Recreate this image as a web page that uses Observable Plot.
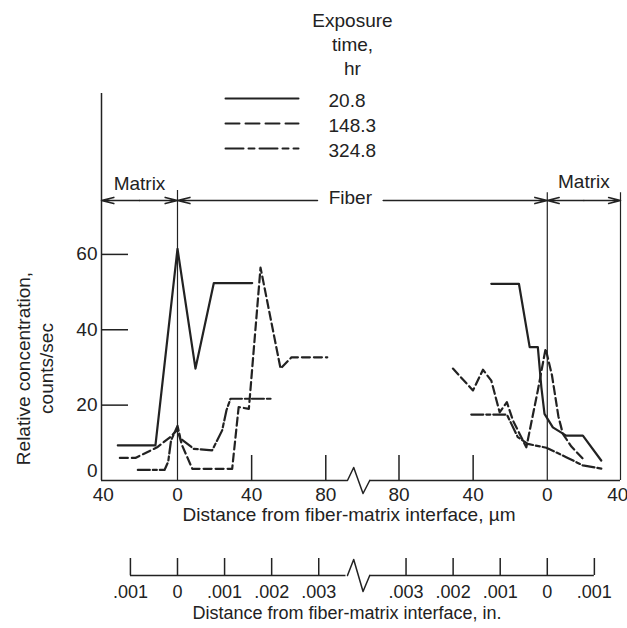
<!DOCTYPE html>
<html><head><meta charset="utf-8">
<script src="https://cdn.jsdelivr.net/npm/d3@7"></script>
<script src="https://cdn.jsdelivr.net/npm/@observablehq/plot@0.6"></script>
<style>
html,body{margin:0;padding:0;background:#fff;}
#wrap{position:relative;width:627px;height:628px;overflow:hidden;background:#fff;}
#wrap svg{position:absolute;left:0;top:0;}
</style></head><body><div id="wrap"></div>
<script>
// ---------- data ----------
const series = ["20.8", "148.3", "324.8"];           // exposure time, hr
// left interface: distance in µm (negative = matrix side)
const left20Dist    = [-32.2, -11.9, 0, 9.7, 19.6, 40.3];
const left20Counts  = [9.3, 9.3, 61.5, 29.7, 52.4, 52.4];
const left148Dist   = [-31.1, -22.7, -11, -4, 0, 2.5, 8, 29.5, 33, 38.5, 44.8, 55.6, 61.5, 80.8];
const left148Counts = [6.0, 6.0, 8.8, 11.5, 13.5, 9.3, 3.1, 3.1, 19.5, 19.0, 56.5, 29.7, 32.7, 32.7];
const left324Dist   = [-21.4, -7, -5, -3.5, 0, 1.6, 8.8, 18.7, 24.1, 26.4, 28.6, 50.2];
const left324Counts = [2.8, 2.8, 5, 10.6, 14.5, 11.1, 8.4, 8.0, 13.3, 18.6, 21.7, 21.7];
// right interface: distance in µm (positive = into fiber, negative = matrix side)
const right20Dist    = [30.2, 15.3, 9.5, 5.1, 3.2, 1.5, -3, -10.2, -19.2, -29.1];
const right20Counts  = [52.2, 52.2, 35.4, 35.4, 24.8, 17.7, 14.1, 11.9, 11.9, 5.3];
const right148Dist   = [50.9, 40.1, 34.7, 30.2, 25.7, 21.8, 18.5, 11.3, 5.1, 0.9, -2.5, -6, -8.4, -13, -19.2];
const right148Counts = [29.7, 23.9, 29.4, 26.5, 18.1, 20.8, 15.9, 8.8, 23.9, 35.0, 28, 17, 12.4, 9, 5.8];
const right324Dist   = [41, 21.8, 15.9, 10.5, 0.5, -10.2, -19.2, -30];
const right324Counts = [17.5, 17.5, 11.5, 9.7, 8.7, 6.2, 4.0, 3.1];

// axis ticks
const yTicks = [0, 20, 40, 60];
const umTicksLeft = [-40, 0, 40, 80];
const umTicksRight = [80, 40, 0, -40];
const inTicksLeft = [-0.001, 0, 0.001, 0.002, 0.003];
const inTicksRight = [0.003, 0.002, 0.001, 0, -0.001];
const inLabelsLeft = [".001", "0", ".001", ".002", ".003"];
const inLabelsRight = [".003", ".002", ".001", "0", ".001"];

// ---------- layout ----------
const W = 627, H = 628, mL = 101, mR = 7, mT = 93, mB = 148;
const xMin = -41, xMax = 239, yMax = 102.7;
const RIGHT_ZERO = 199.5;          // plot coordinate of right-hand interface
const breakGap = [91.7, 103.7];    // broken axis
const pxPerY = (H - mT - mB) / yMax;
const pxPerX = (W - mL - mR) / (xMax - xMin);
const toX = (side, d) => side === "left" ? d : RIGHT_ZERO - d;
const UM_PER_IN = 25400;
const ink = "#222";
const font = "Liberation Sans, Arial, sans-serif";
const FS = 19;

const dash = {"20.8": null, "148.3": "8,4", "324.8": "12,3,4,3"};
const legendDash = {"20.8": null, "148.3": "14,6", "324.8": "18,5,6,5"};

function rows(side, dist, counts) {
  return dist.map((d, i) => ({X: toX(side, d), c: counts[i]}));
}
const curves = [
  {s: "20.8", data: rows("left", left20Dist, left20Counts)},
  {s: "20.8", data: rows("right", right20Dist, right20Counts)},
  {s: "148.3", data: rows("left", left148Dist, left148Counts)},
  {s: "148.3", data: rows("right", right148Dist, right148Counts)},
  {s: "324.8", data: rows("left", left324Dist, left324Counts)},
  {s: "324.8", data: rows("right", right324Dist, right324Counts)}
];

const zig = (amp) => {
  const [a, b] = breakGap, w = b - a;
  return [{x: a, y: 0}, {x: a + 0.28 * w, y: amp}, {x: a + 0.7 * w, y: -amp}, {x: b, y: 0}];
};

const umPos = [...umTicksLeft.map(d => ({X: toX("left", d), t: Math.abs(d)})),
               ...umTicksRight.map(d => ({X: toX("right", d), t: Math.abs(d)}))];
const inPos = [...inTicksLeft.map((d, i) => ({X: toX("left", d * UM_PER_IN), t: inLabelsLeft[i]})),
               ...inTicksRight.map((d, i) => ({X: toX("right", d * UM_PER_IN), t: inLabelsRight[i]}))];

const bracketY = (H - mB - 200) / pxPerY;
const bTop = (H - mB - 190) / pxPerY;
const fiberGap = [75.5, 111];
const arrows = [
  {x1: (xMin + 0) / 2, x2: xMin}, {x1: (xMin + 0) / 2, x2: 0},
  {x1: fiberGap[0], x2: 0}, {x1: fiberGap[1], x2: RIGHT_ZERO},
  {x1: (RIGHT_ZERO + xMax) / 2, x2: RIGHT_ZERO}, {x1: (RIGHT_ZERO + xMax) / 2, x2: xMax}
];

const IN_DY = 95;
const tickLen = 25 / pxPerY, inTickLen = 17 / pxPerY;
const yTitleY = (H - mB - 368) / pxPerY;

const main = Plot.plot({
  width: W, height: H,
  marginLeft: mL, marginRight: mR, marginTop: mT, marginBottom: mB,
  x: {domain: [xMin, xMax], axis: null},
  y: {domain: [0, yMax], axis: null},
  style: {fontFamily: font, fontSize: FS + "px", background: "transparent", color: ink},
  marks: [
    // y axis
    Plot.ruleX([xMin], {y1: 0, y2: yMax, stroke: ink, strokeWidth: 1.5}),
    Plot.ruleY(yTicks.filter(d => d > 0), {x1: xMin, x2: xMin + 27 / pxPerX, stroke: ink, strokeWidth: 1.5}),
    Plot.text(yTicks.filter(d => d > 0), {x: xMin, y: d => d, text: d => String(d), dx: -4, textAnchor: "end", fontSize: FS, fill: ink}),
    Plot.text([0], {x: xMin, y: d => d, text: d => String(d), dx: -4, dy: -10, textAnchor: "end", fontSize: FS, fill: ink}),
    // broken µm axis
    Plot.ruleY([0], {x1: xMin, x2: breakGap[0], stroke: ink, strokeWidth: 1.5}),
    Plot.ruleY([0], {x1: breakGap[1], x2: xMax, stroke: ink, strokeWidth: 1.5}),
    Plot.line(zig(13 / pxPerY), {x: "x", y: "y", stroke: ink, strokeWidth: 1.5}),
    Plot.ruleX(umPos.filter(p => Math.abs(p.X) > 1 && Math.abs(p.X - RIGHT_ZERO) > 1 && p.X > xMin + 2 && p.X < xMax - 2),
      {x: "X", y1: 0, y2: tickLen, stroke: ink, strokeWidth: 1.5}),
    Plot.text(umPos.filter(p => p.X < xMax - 2), {x: "X", y: 0, text: "t", dy: 14, fontSize: FS, fill: ink}),
    Plot.text(umPos.filter(p => p.X >= xMax - 2), {x: "X", y: 0, text: "t", dy: 14, dx: 7, textAnchor: "end", fontSize: FS, fill: ink}),
    // interface / boundary lines
    Plot.ruleX([0], {y1: 0, y2: bTop, stroke: ink, strokeWidth: 1.2}),
    Plot.ruleX([RIGHT_ZERO, xMax], {y1: 0, y2: bTop - 0.6, stroke: ink, strokeWidth: 1.2}),
    // region brackets
    Plot.arrow(arrows, {x1: "x1", x2: "x2", y1: bracketY, y2: bracketY, stroke: ink, strokeWidth: 1.6, headLength: 12, headAngle: 28}),
    Plot.text(["Matrix"], {x: (xMin + 0) / 2, y: bracketY, dy: -17, fontSize: FS, fill: ink}),
    Plot.text(["Matrix"], {x: (RIGHT_ZERO + xMax) / 2, y: bracketY, dy: -19, fontSize: FS, fill: ink}),
    Plot.text(["Fiber"], {x: (fiberGap[0] + fiberGap[1]) / 2, y: bracketY, dy: -3, fontSize: FS, fill: ink}),
    // data curves
    ...curves.map(cv => Plot.line(cv.data, {x: "X", y: "c", stroke: ink, strokeWidth: 2.2, strokeDasharray: dash[cv.s], curve: "linear"})),
    // inch axis
    Plot.ruleY([0], {x1: inPos[0].X, x2: breakGap[0] - 0.8, dy: IN_DY, stroke: ink, strokeWidth: 1.5}),
    Plot.ruleY([0], {x1: breakGap[1], x2: inPos[inPos.length - 1].X, dy: IN_DY, stroke: ink, strokeWidth: 1.5}),
    Plot.line(zig(16 / pxPerY), {x: "x", y: "y", dy: IN_DY, stroke: ink, strokeWidth: 1.5}),
    Plot.ruleX(inPos, {x: "X", y1: 0, y2: inTickLen, dy: IN_DY, stroke: ink, strokeWidth: 1.5}),
    Plot.text(inPos, {x: "X", y: 0, text: "t", dy: IN_DY + 17, fontSize: 18, fill: ink}),
    // titles
    Plot.text(["Distance from fiber-matrix interface, µm"], {frameAnchor: "bottom", dx: -12, dy: 40, fontSize: FS, fill: ink}),
    Plot.text(["Distance from fiber-matrix interface, in."], {frameAnchor: "bottom", dx: -14, dy: 138, fontSize: 18, fill: ink}),
    Plot.text(["Relative concentration,\ncounts/sec"], {x: xMin, y: yTitleY, dx: -67.5, rotate: -90, lineHeight: 1.21, fontSize: FS, fill: ink})
  ]
});

const legend = Plot.plot({
  width: W, height: 170, marginLeft: 0, marginRight: 0, marginTop: 0, marginBottom: 0,
  x: {domain: [0, 1], range: [225, 298], axis: null},
  y: {type: "point", domain: series, range: [98, 148], padding: 0, axis: null},
  style: {fontFamily: font, fontSize: FS + "px", background: "transparent", color: ink},
  marks: [
    ...series.map(s => Plot.line([0, 1], {x: d => d, y: () => s, stroke: ink, strokeWidth: 2, strokeDasharray: legendDash[s]})),
    Plot.text(series, {x: () => 1, y: d => d, text: d => d, dx: 30, dy: 2, textAnchor: "start", fontSize: FS, fill: ink}),
    Plot.text(["Exposure\ntime,\nhr"], {frameAnchor: "top-left", dx: 352, dy: 9, textAnchor: "middle", lineAnchor: "top", lineHeight: 1.27, fontSize: FS, fill: ink})
  ]
});

const wrap = document.getElementById("wrap");
wrap.appendChild(main);
wrap.appendChild(legend);
</script>
</body></html>
